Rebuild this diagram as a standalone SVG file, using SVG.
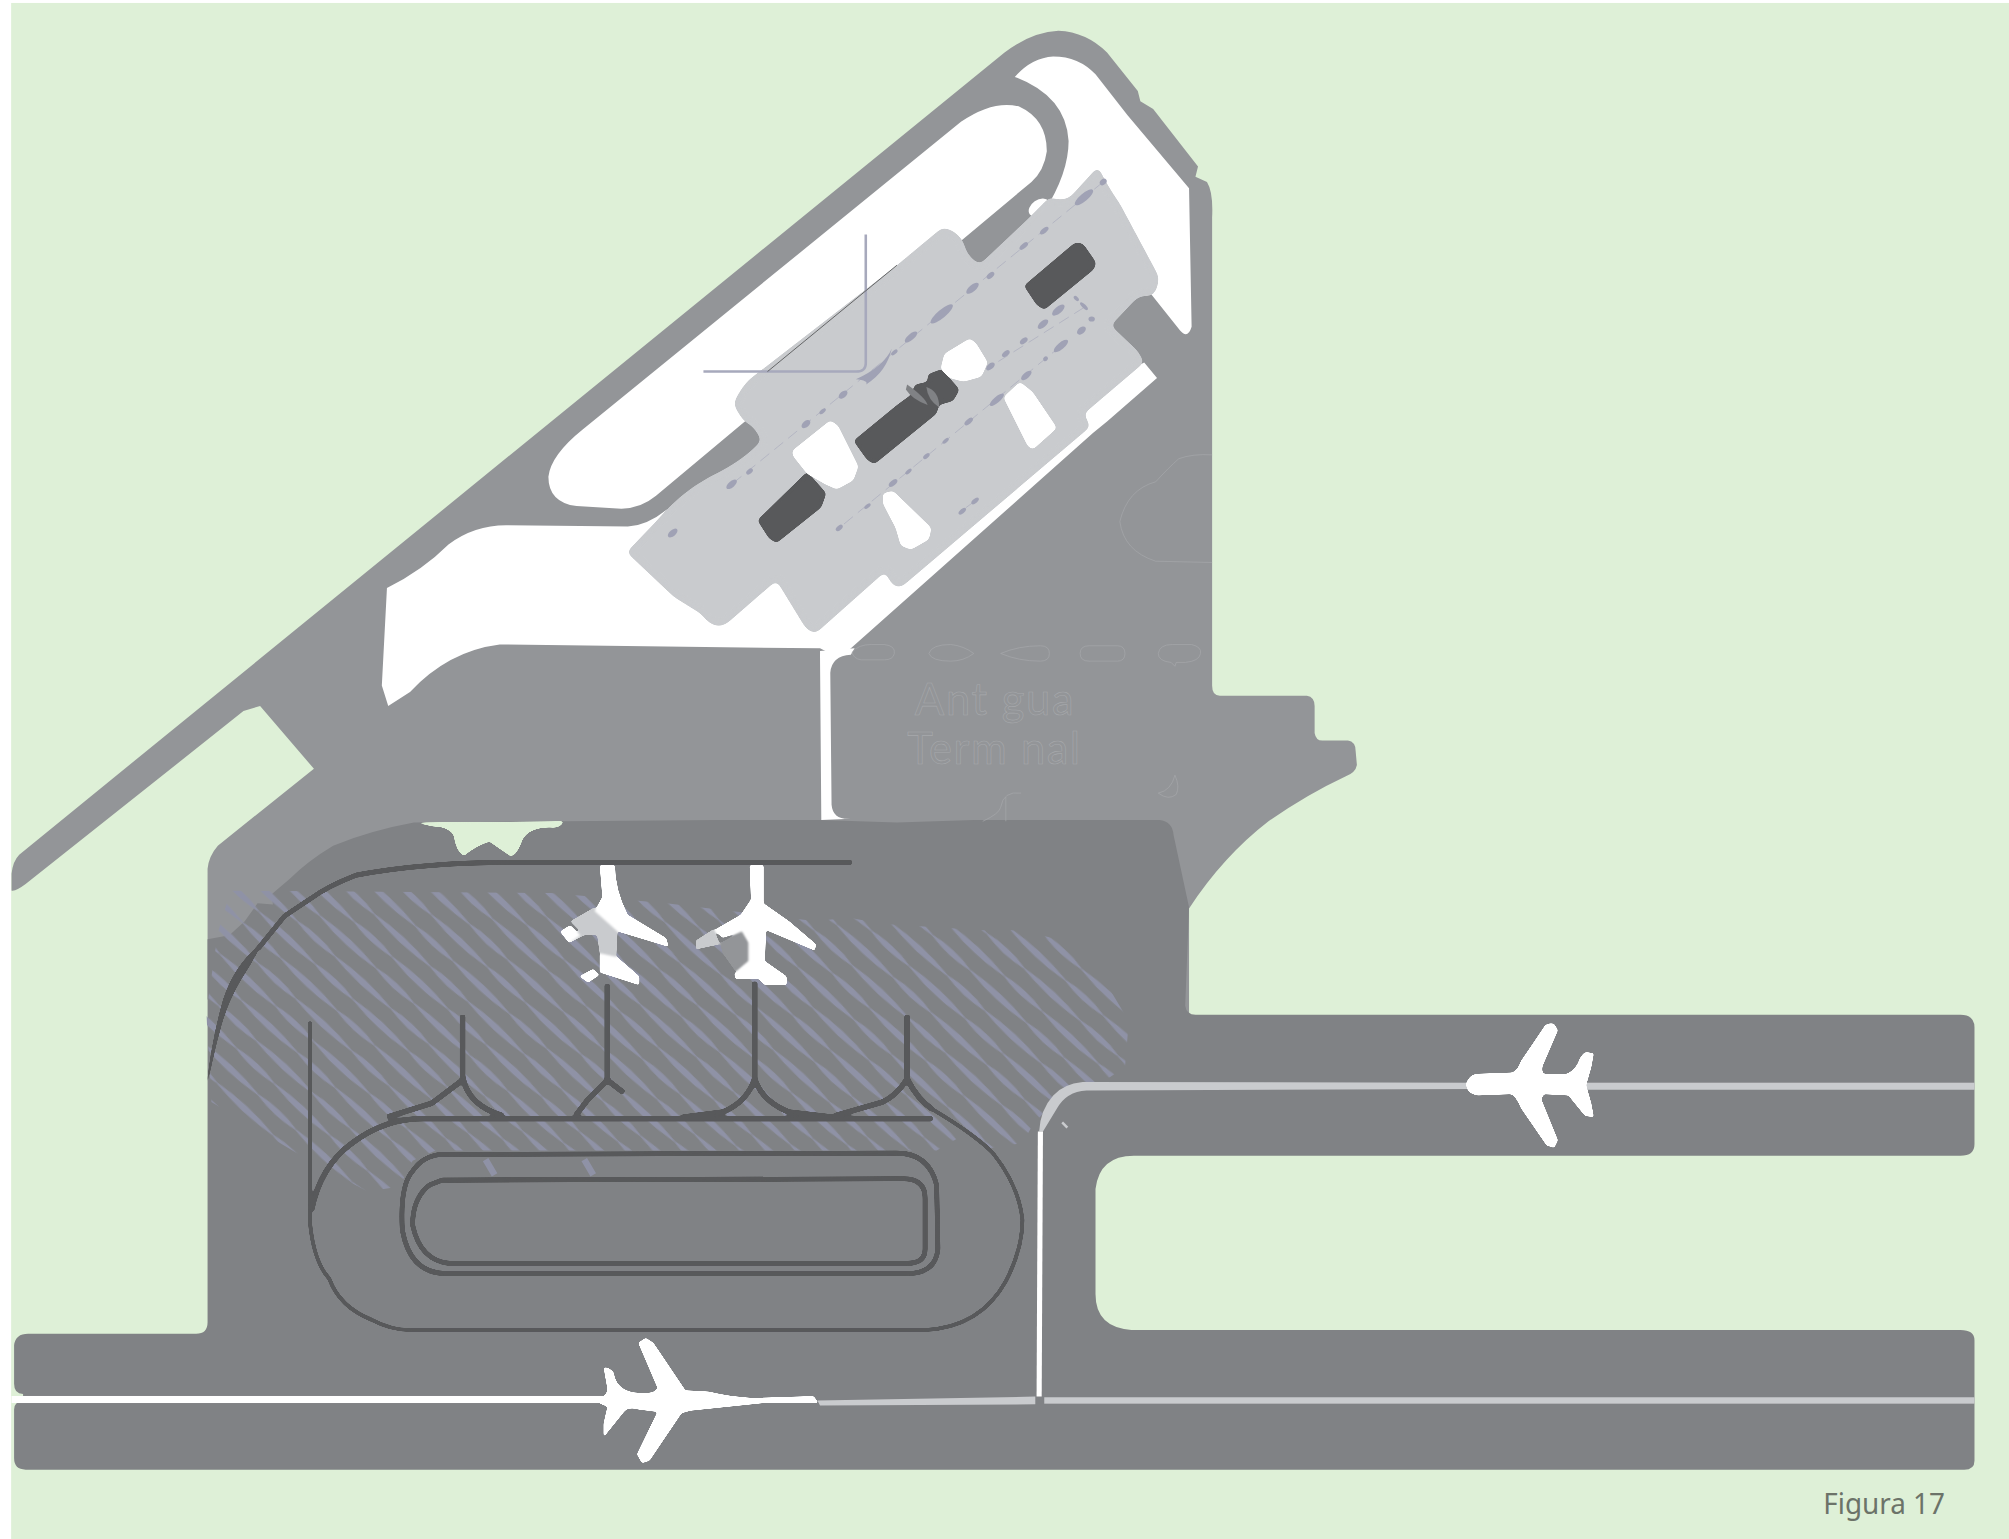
<svg xmlns="http://www.w3.org/2000/svg" width="2009" height="1539" viewBox="0 0 2009 1539">
<style>
.lg{fill:#939598}.dk{fill:#808285}.wh{fill:#fff}.tm{fill:#c9cbce}.sp{fill:#58595b}.gn{fill:#def0d7}
.ln{fill:none;stroke:#58595b;stroke-linecap:butt;stroke-linejoin:round}
.gh{fill:none;stroke:#a7a9ac;stroke-width:.5}
.lens{fill:#a0a2b5}
.cr{fill:none;stroke:#a7a9bc;stroke-width:2}
.gt{font-family:"Lato","Liberation Sans",sans-serif;font-size:34px;fill:none;stroke:#a7a9ac;stroke-width:.45}
</style>
<defs>
<filter id="s3" x="-5%" y="-5%" width="110%" height="110%" color-interpolation-filters="sRGB"><feGaussianBlur stdDeviation="2.6"/><feComponentTransfer><feFuncA type="linear" slope="12" intercept="-5.5"/></feComponentTransfer></filter>
<filter id="s2" x="-10%" y="-10%" width="120%" height="120%" color-interpolation-filters="sRGB"><feGaussianBlur stdDeviation="1.5"/><feComponentTransfer><feFuncA type="linear" slope="10" intercept="-4.5"/></feComponentTransfer></filter>
<filter id="s1" x="-10%" y="-10%" width="120%" height="120%" color-interpolation-filters="sRGB"><feGaussianBlur stdDeviation=".8"/><feComponentTransfer><feFuncA type="linear" slope="8" intercept="-3.5"/></feComponentTransfer></filter>
<path id="r" d="M0,-.4Q30,-4.6 60,-.4Q80,-4.2 100,-.4L100,.4Q80,4.2 60,.4Q30,4.6 0,.4Z"/>
<pattern id="h1" patternUnits="userSpaceOnUse" width="100" height="45" patternTransform="rotate(43)"><g fill="#8f92a6"><use href="#r" y="7.5"/><use href="#r" x="33" y="22.5"/><use href="#r" x="-67" y="22.5"/><use href="#r" x="70" y="37.5"/><use href="#r" x="-30" y="37.5"/></g></pattern>
<clipPath id="hc"><path d="M170,728L180,695L430,697L520,705L637,719L662,716L688,721L767,726L792,726L827,733L860,762L881,797L878,833L861,844L839,845L815,868L806,878L798,892L773,896L755,884L731,898L340,898L322,906L312,926L287,930L240,905L165,860L161,790Z"/></clipPath>
</defs>
<rect width="2009" height="1539" fill="#fff"/>
<g transform="scale(1.2813)">
<rect x="8.7" y="2.3" width="1560" height="1200" class="gn"/>

<path id="upper-ground" class="lg" d="M9,695L9,682Q10,672 15,667L784,41Q805,25 826,24Q848,25 864,41L888,71L890,79L900,85L935,130L933,138L942,142Q947,150 946,170L946,535Q946,543 952,543L1020,543Q1026,544 1026,551L1026,572Q1027,578 1032,578L1052,578Q1058,579 1058,586L1059,597Q1058,603 1050,606Q1020,620 990,641Q955,668 928,709L928,800L300,800L162,780L162,678Q163,668 170,660L245,600L203,551L190,555L20,690Q12,696 9,695Z"/>

<path id="apron-lower" class="dk" d="M162,733L179,730L191,719L201,705L213,706L212,698L226,686Q240,672 260,660Q290,648 323,642L440,641L560,640L640,640L700,642L760,640L905,640Q915,641 916,652L928,708L925,785Q926,792 933,792L1530,792Q1541,792 1541,802L1541,893Q1541,902 1530,902L885,902Q858,902 855,928L855,1010Q855,1036 883,1038L1530,1038Q1541,1038 1541,1046L1541,1140Q1541,1147 1533,1147L20,1147Q11,1147 11,1138L11,1100Q11,1094 18,1093L18,1088Q11,1088 11,1080L11,1050Q12,1041 22,1041L153,1041Q162,1041 162,1032Z"/>
<path id="notch" class="gn" filter="url(#s1)" d="M323,642L440,641Q438,646 432,646Q414,645 408,655Q403,669 398,668Q392,664 382,657Q372,660 362,668Q356,665 354,652Q350,645 338,645Z"/>

<path id="white-capsule" class="wh" d="M428,372Q430,355 455,335L750,95Q775,78 795,83Q817,93 817,118Q815,133 805,142L512,387Q500,397 485,397L450,395Q428,392 428,372Z"/>
<path id="white-band" class="wh" d="M792,60Q805,45 822,44Q842,44 855,58L880,90L928,147L930,255Q927,265 921,258L898,229L860,190L815,165Q834,135 834,110Q832,75 792,60Z"/>
<ellipse cx="811" cy="162" rx="9" ry="6" transform="rotate(-35 811 162)" class="wh"/>
<path id="white-lower" class="wh" d="M302,459Q330,445 350,425Q370,410 395,410L490,411Q505,410 520,398L600,350L860,300L893,283L903,295L864,329L853,338L663,507L650,511L640,506L390,503Q350,508 320,540L303,551L298,535Z"/>
<path id="white-stub" class="wh" d="M640,515L641,640L664,639Q650,640 649,628L648,525Q649,512 664,511L667,506L640,508Z"/>

<path id="terminal" class="tm" filter="url(#s3)" d="M857,130Q864,145 874,159L904,215Q905,225 899,231Q890,230 886,234L867,254L888,274L893,283L846,323L851,333L705,457Q697,462 691,446L637,494Q630,494 625,484L606,453L568,486Q558,494 547,479L526,466L489,431L512,407Q530,385 554,372Q580,360 594,344Q590,333 581,329Q570,315 574,312Q578,303 585,296L700,207L735,178Q745,178 752,189Q755,202 765,206L801,172L819,154Q830,158 836,153Z"/>

<g filter="url(#s2)">
<path class="sp" d="M799,223L838,190Q842,188 846,191L855,204Q856,208 853,211L815,242L809,238Z"/>
<path class="sp" d="M666,344L700,316L711,308L714,300L724,298L724,292L735,288L749,304L744,313L733,316L731,323L683,362Q680,362 676,358Z"/>
<path class="sp" d="M591,406L630,368L645,385L641,396L606,424L600,420Z"/>
</g>
<path d="M708,300Q722,310 724,316Q712,312 707,304Z" fill="#808285"/><path d="M723,302Q733,305 733,318Q724,312 723,302Z" fill="#808285"/>
<g filter="url(#s2)">
<path class="wh" d="M618,352L648,328L654,332L670,364L666,375L653,382L644,378L630,370L619,356Z"/>
<path class="wh" d="M734,288L737,276L757,264L762,268L771,283L766,294L752,298L741,295Z"/>
<path class="wh" d="M783,310L796,298L806,306L825,334L806,351L802,348Z"/>
<path class="wh" d="M689,385L697,383L727,412L725,421L711,429L703,426L699,412L689,393Z"/>
</g>

<path d="M861,142L571,378M846,240L773,286M828,270L655,412M761,391L750,399" fill="none" stroke="#a7a9bc" stroke-width=".5" stroke-dasharray="9 5"/>
<g id="gate-marks" class="lens">
<ellipse cx="861" cy="142" rx="3" ry="2.2" transform="rotate(-40 861 142)"/><ellipse cx="846" cy="154" rx="9" ry="3" transform="rotate(-40 846 154)"/><ellipse cx="815" cy="180" rx="4" ry="1.9" transform="rotate(-40 815 180)"/><ellipse cx="799" cy="192" rx="4" ry="1.9" transform="rotate(-40 799 192)"/><ellipse cx="773" cy="215" rx="3.5" ry="2" transform="rotate(-40 773 215)"/><ellipse cx="759" cy="225" rx="6" ry="2.6" transform="rotate(-40 759 225)"/><ellipse cx="735" cy="245" rx="11" ry="3.2" transform="rotate(-40 735 245)"/><ellipse cx="711" cy="263" rx="6" ry="2.4" transform="rotate(-40 711 263)"/><ellipse cx="698" cy="275" rx="3" ry="1.5" transform="rotate(-40 698 275)"/><ellipse cx="658" cy="308" rx="4" ry="2.4" transform="rotate(-40 658 308)"/><ellipse cx="642" cy="321" rx="3" ry="1.5" transform="rotate(-40 642 321)"/><ellipse cx="629" cy="331" rx="4" ry="2.4" transform="rotate(-40 629 331)"/><ellipse cx="585" cy="368" rx="3" ry="1.8" transform="rotate(-40 585 368)"/><ellipse cx="571" cy="378" rx="5" ry="2.4" transform="rotate(-40 571 378)"/><ellipse cx="525" cy="416" rx="4.5" ry="2.4" transform="rotate(-40 525 416)"/>
<ellipse cx="826" cy="242" rx="6" ry="2.6" transform="rotate(-40 826 242)"/><ellipse cx="814" cy="253" rx="5" ry="2.4" transform="rotate(-40 814 253)"/><ellipse cx="799" cy="266" rx="3.5" ry="2" transform="rotate(-40 799 266)"/><ellipse cx="785" cy="276" rx="3.5" ry="2" transform="rotate(-40 785 276)"/><ellipse cx="773" cy="286" rx="4" ry="2.2" transform="rotate(-40 773 286)"/><ellipse cx="828" cy="270" rx="7" ry="2.6" transform="rotate(-40 828 270)"/><ellipse cx="816" cy="280" rx="2" ry="1.7" transform="rotate(-40 816 280)"/><ellipse cx="844" cy="258" rx="4" ry="2.5" transform="rotate(-40 844 258)"/><ellipse cx="852" cy="249" rx="2.5" ry="2"/><ellipse cx="846" cy="239" rx="4" ry="1.5" transform="rotate(45 846 239)"/><ellipse cx="840" cy="233" rx="2.5" ry="1.4" transform="rotate(45 840 233)"/>
<ellipse cx="801" cy="293" rx="5" ry="2.3" transform="rotate(-40 801 293)"/><ellipse cx="778" cy="312" rx="7" ry="2.3" transform="rotate(-40 778 312)"/><ellipse cx="756" cy="329" rx="4" ry="1.9" transform="rotate(-40 756 329)"/><ellipse cx="738" cy="344" rx="3" ry="1.4" transform="rotate(-40 738 344)"/><ellipse cx="723" cy="356" rx="3" ry="1.6" transform="rotate(-40 723 356)"/><ellipse cx="709" cy="368" rx="3" ry="1.4" transform="rotate(-40 709 368)"/><ellipse cx="697" cy="377" rx="4" ry="2" transform="rotate(-40 697 377)"/><ellipse cx="677" cy="395" rx="3" ry="1.4" transform="rotate(-40 677 395)"/><ellipse cx="655" cy="412" rx="3.2" ry="1.8" transform="rotate(-40 655 412)"/><ellipse cx="761" cy="391" rx="3.5" ry="1.7" transform="rotate(-40 761 391)"/><ellipse cx="751" cy="399" rx="3.5" ry="1.7" transform="rotate(-40 751 399)"/>
</g>
<path class="cr" d="M675.7,183L675.7,283Q676,290 668,290L549,290"/>
<path d="M668,296Q690,286 696,272Q692,290 676,300Q678,297 668,296Z" class="lens"/>
<path d="M599,290L700,207" fill="none" stroke="#58595b" stroke-width=".7"/>

<g id="ghost-marks" class="gh">
<path d="M665,509Q670,503 680,503L690,503Q699,504 698,510Q697,515 690,515L672,515Q666,514 665,509Z"/>
<path d="M725,510Q727,503 742,503Q752,504 760,510Q752,516 742,516Q727,516 725,510Z"/>
<path d="M781,510Q795,504 812,504Q819,504 819,510Q819,516 812,516Q795,516 781,510Z"/>
<path d="M843,510Q843,504 850,504L872,504Q878,504 878,510Q878,516 872,516L850,516Q843,516 843,510Z"/>
<path d="M904,510Q905,503 915,503L930,503Q938,505 937,510Q936,516 925,517L918,517L917,520L914,517Q904,516 904,510Z"/>
<path d="M946,355Q931,354 920,358Q912,365 902,376Q880,382 874,407Q877,430 902,438L946,439"/>
<path d="M767,641Q780,635 781,630Q783,617 797,619M785,641L785,622"/>
<path d="M917,605Q914,617 904,619Q912,625 918,620Q921,614 917,605Z"/>
</g>
<text class="gt" x="714" y="558" textLength="124">Ant gua</text>
<text class="gt" x="708" y="596" textLength="135">Term nal</text>

<g id="hatch" clip-path="url(#hc)">
<rect x="150" y="690" width="750" height="250" fill="url(#h1)"/>
</g>
<path d="M379,905L386,917M456,905L463,917" stroke="#8f92a6" stroke-width="5" fill="none"/>

<g id="taxi-lines" class="ln" filter="url(#s1)">
<path stroke-width="4" d="M665,673L400,673Q330,673 278,683Q255,692 243,701L222,715L201,741"/>
<path class="sp" stroke="none" d="M205,735Q183,752 174,780Q164,815 160,857Q166,825 173,800Q178,782 188,765Q198,750 205,735Z"/>
<path stroke-width="3.2" d="M242,797L242,955Q245,985 257,998Q265,1020 290,1030Q305,1038 320,1038L722,1038Q765,1036 785,1000Q798,975 798,952Q795,925 775,900Q760,885 728,866"/>
<path stroke-width="4.5" d="M728,873L330,873Q300,873 275,892Q250,910 243,945"/>
<path stroke-width="4" d="M322,914Q330,902 344,901L700,900Q725,900 731,925L732,975Q730,994 708,994L348,994Q320,994 314,960Q312,925 322,914Z"/>
<path stroke-width="4" d="M335,925L345,921L705,920Q722,920 722,935L722,975Q722,986 708,986L351,986Q328,984 322,956Q322,935 335,925Z"/>
<path stroke-width="4.5" d="M361,792L361,840Q365,863 393,871M361,843L337,861L302,872"/>
<path stroke-width="4.5" d="M474,768L474,843L459,858L449,871M474,843L487,853"/>
<path stroke-width="4.5" d="M589,766L589,842Q583,860 564,868L532,872M589,842Q595,860 616,868L651,872"/>
<path stroke-width="4.5" d="M708,792L708,842Q700,855 689,860L651,871M708,842Q716,858 728,866"/>
</g>

<path id="rwy-up" class="tm" d="M811,883Q812,866 822,855Q830,846 845,844.5L1150,845L1150,850L848,851Q832,852 825,865L814,883Z"/>
<rect x="1236" y="845" width="305" height="5.5" class="tm"/>
<path class="wh" d="M810,883L814,883L813,1090L809,1090Z"/>
<rect x="815" y="1090.5" width="726" height="5" class="tm"/>
<path class="tm" d="M638,1093L808,1090L808,1096L640,1097Z"/>
<rect x="9" y="1089.5" width="465" height="5.5" class="wh"/>
<path d="M829,876L833,880" stroke="#c9cbce" stroke-width="2" fill="none"/>

<path id="plane-1" class="wh" filter="url(#s1)" d="M1144,846Q1147,838 1153,838L1180,837Q1184,836 1187,828L1206,800Q1209,798 1213,799L1216,804L1204,832Q1203,837 1205,838L1223,838Q1230,835 1233,826Q1236,821 1238,821L1244,822L1242,833L1238,847L1242,861L1244,872L1237,871L1224,855L1205,854L1203,858L1216,890L1213,896L1207,894L1187,865Q1183,855 1179,854L1153,855Q1147,854 1145,850Z"/>
<path id="plane-2" class="wh" filter="url(#s1)" d="M470,1090Q474,1088 474,1084L471,1067Q476,1067 479,1071Q481,1086 498,1087Q512,1088 513,1083L498,1048L504,1044L510,1048L535,1085L553,1086Q570,1090 588,1091L635,1089.5L639,1095L597,1095L539,1101L532,1103L507,1140L501,1142L497,1135L513,1102L498,1100Q490,1098 487,1102L471,1122L471,1111L474,1098L467,1095Z"/>

<g id="gate-plane-1" filter="url(#s1)">
<path class="tm" d="M464,708L482,727L481,747L468,744L466,730L456,730L444,736L452,726L445,719Z"/>
<path class="wh" d="M468,675L480,675Q480,694 490,714L520,732L522,739L482,727L464,711L470,700Z"/>
<path class="wh" d="M437,727L445,722L453,730L444,736Z"/>
<path class="wh" d="M468,744L482,747L499,762L499,769L468,759Z"/>
<path class="wh" d="M452,762L463,756L468,761L459,767Z"/>
</g>
<g id="gate-plane-2" filter="url(#s1)">
<path class="wh" d="M585,675L596,675L596,705L616,719L637,737L636,742L598,726L597,750L614,762L614,769L597,769L592,764L574,764L573,760L584,750L584,735L579,727L564,732L557,726L578,714L586,702Z"/>
<path class="tm" d="M557,725L543,734L543,741L562,737Z"/>
<path class="lg" d="M579,727L584,736L584,750L574,758L564,744L562,736Z"/>
</g>

<text x="1423" y="1182" font-family="'Noto Sans','Open Sans','Liberation Sans',sans-serif" font-size="23" textLength="95" lengthAdjust="spacingAndGlyphs" fill="#6c7369">Figura 17</text>
</g>
</svg>
